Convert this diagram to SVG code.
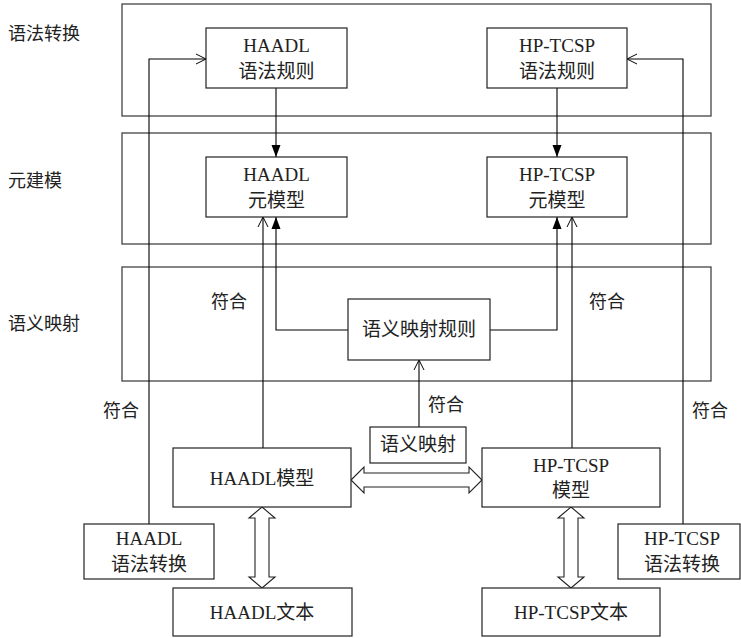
<svg xmlns="http://www.w3.org/2000/svg" width="741" height="638" viewBox="0 0 741 638">
<defs>
<marker id="filled" viewBox="0 0 12 12" refX="12" refY="6" markerWidth="12" markerHeight="12" markerUnits="userSpaceOnUse" orient="auto">
<path d="M0,1.5 L12,6 L0,10.5 Z" fill="#000"/>
</marker>
<marker id="open" viewBox="0 0 12 12" refX="11" refY="6" markerWidth="12" markerHeight="12" markerUnits="userSpaceOnUse" orient="auto">
<path d="M1,1 L11,6 L1,11" fill="none" stroke="#000" stroke-width="1"/>
</marker>
<style>
.band{fill:none;stroke:#444;stroke-width:1.3}
.box{fill:#fff;stroke:#222;stroke-width:1.2}
.t{font-family:"Liberation Serif","Noto Sans CJK SC",serif;font-size:19px;fill:#222;text-anchor:middle}
.l{font-family:"Liberation Serif","Noto Sans CJK SC",serif;font-size:18px;fill:#222}
.ln{fill:none;stroke:#000;stroke-width:1.1}
.dbl{fill:#fff;stroke:#222;stroke-width:1.1}
</style>
</defs>
<rect width="741" height="638" fill="#fff"/>
<g id="bands">
<rect class="band" x="122" y="4" width="589" height="112"/>
<rect class="band" x="122" y="133" width="589" height="111"/>
<rect class="band" x="122" y="267" width="589" height="114"/>
<text class="l" x="8" y="40">语法转换</text>
<text class="l" x="8" y="187">元建模</text>
<text class="l" x="8" y="330">语义映射</text>
</g>
<g id="connectors">
<path class="ln" d="M276,88 V157" marker-end="url(#filled)"/>
<path class="ln" d="M557,88 V157" marker-end="url(#filled)"/>
<path class="ln" d="M149,524 V59 H206" marker-end="url(#open)"/>
<path class="ln" d="M683,524 V59 H627" marker-end="url(#open)"/>
<path class="ln" d="M263,448 V217" marker-end="url(#open)"/>
<path class="ln" d="M572,448 V217" marker-end="url(#open)"/>
<path class="ln" d="M348,330 H276 V217" marker-end="url(#filled)"/>
<path class="ln" d="M490,330 H557 V217" marker-end="url(#filled)"/>
<path class="ln" d="M419,427 V360" marker-end="url(#open)"/>
<polygon class="dbl" points="351,480 364,467 364,473 469,473 469,467 482,480 469,493 469,487 364,487 364,493"/>
<polygon class="dbl" points="262,507 275,518 269,518 269,577 275,577 262,588 249,577 255,577 255,518 249,518"/>
<polygon class="dbl" points="571,507 584,518 578,518 578,577 584,577 571,588 558,577 564,577 564,518 558,518"/>
<text class="l" x="211" y="308">符合</text>
<text class="l" x="589" y="308">符合</text>
<text class="l" x="428" y="411">符合</text>
<text class="l" x="103" y="417">符合</text>
<text class="l" x="692" y="417">符合</text>
</g>
<g id="haadl-rules">
<rect class="box" x="206" y="28" width="141" height="60"/>
<text class="t" x="276.5" y="52">HAADL</text>
<text class="t" x="276.5" y="78">语法规则</text>
</g>
<g id="hptcsp-rules">
<rect class="box" x="487" y="28" width="140" height="60"/>
<text class="t" x="557" y="52">HP-TCSP</text>
<text class="t" x="557" y="78">语法规则</text>
</g>
<g id="haadl-meta">
<rect class="box" x="206" y="157" width="141" height="60"/>
<text class="t" x="276.5" y="181">HAADL</text>
<text class="t" x="276.5" y="207">元模型</text>
</g>
<g id="hptcsp-meta">
<rect class="box" x="487" y="157" width="140" height="60"/>
<text class="t" x="557" y="181">HP-TCSP</text>
<text class="t" x="557" y="207">元模型</text>
</g>
<g id="sem-rules">
<rect class="box" x="348" y="299" width="142" height="61"/>
<text class="t" x="419" y="336">语义映射规则</text>
</g>
<g id="sem-map">
<rect class="box" x="370" y="427" width="96" height="36"/>
<text class="t" x="418" y="451">语义映射</text>
</g>
<g id="haadl-model">
<rect class="box" x="173" y="448" width="178" height="59"/>
<text class="t" x="262" y="485">HAADL模型</text>
</g>
<g id="hptcsp-model">
<rect class="box" x="482" y="448" width="178" height="59"/>
<text class="t" x="571" y="472">HP-TCSP</text>
<text class="t" x="571" y="497">模型</text>
</g>
<g id="haadl-conv">
<rect class="box" x="84" y="524" width="130" height="55"/>
<text class="t" x="149" y="545">HAADL</text>
<text class="t" x="149" y="571">语法转换</text>
</g>
<g id="hptcsp-conv">
<rect class="box" x="618" y="524" width="122" height="55"/>
<text class="t" x="682" y="545">HP-TCSP</text>
<text class="t" x="682" y="571">语法转换</text>
</g>
<g id="haadl-text">
<rect class="box" x="173" y="588" width="179" height="48"/>
<text class="t" x="262" y="619">HAADL文本</text>
</g>
<g id="hptcsp-text">
<rect class="box" x="482" y="588" width="178" height="48"/>
<text class="t" x="571" y="619">HP-TCSP文本</text>
</g>
</svg>
